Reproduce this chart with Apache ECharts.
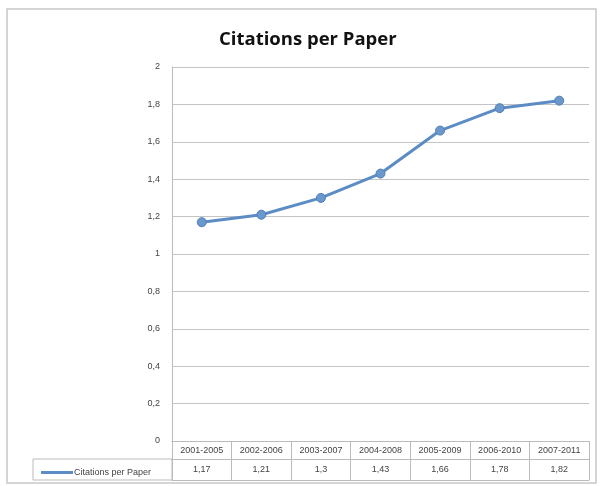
<!DOCTYPE html>
<html>
<head>
<meta charset="utf-8">
<script src="https://cdn.jsdelivr.net/npm/echarts@6/dist/echarts.min.js"></script>
<style>
  html, body { margin: 0; padding: 0; background: #fff; }
  #chart { width: 600px; height: 486px; }
</style>
</head>
<body>
<div id="chart"></div>
<script>
// 数据
var periods = ['2001-2005', '2002-2006', '2003-2007', '2004-2008', '2005-2009', '2006-2010', '2007-2011'];
var citations = [1.17, 1.21, 1.3, 1.43, 1.66, 1.78, 1.82];
var seriesName = 'Citations per Paper';

var chart = echarts.init(document.getElementById('chart'));

function comma(v) {
    return String(v).replace('.', ',');
}

var option = {
    backgroundColor: '#fff',
    animation: false,
    textStyle: { fontFamily: 'Liberation Sans' },
    title: {
        text: 'Citations per Paper',
        left: 214,
        top: 25,
        textStyle: { fontFamily: 'Open Sans', fontSize: 18.5, fontWeight: 'bold', color: '#111' }
    },
    legend: {
        data: [seriesName],
        left: 36,
        top: 463,
        icon: 'rect',
        itemWidth: 32,
        itemHeight: 3,
        itemGap: 2,
        itemStyle: { borderWidth: 0, color: '#5b8cc5' },
        textStyle: { fontSize: 9, color: '#444', padding: [0, 0, 0, -4] }
    },
    grid: { left: 172, right: 11, top: 67, bottom: 45 },
    xAxis: [{
        type: 'category',
        data: periods,
        position: 'bottom',
        axisLine: { lineStyle: { color: '#bbb' } },
        axisTick: { show: true, length: 39, lineStyle: { color: '#bbb' } },
        axisLabel: { color: '#444', fontSize: 9, margin: 5, interval: 0 }
    }, {
        type: 'category',
        data: periods,
        position: 'bottom',
        offset: 18,
        axisLine: { lineStyle: { color: '#bbb' } },
        axisTick: { show: false },
        axisLabel: {
            color: '#444', fontSize: 9, margin: 6, interval: 0,
            formatter: function (v, i) { return comma(citations[i]); }
        }
    }, {
        type: 'category',
        data: periods,
        position: 'bottom',
        offset: 39,
        axisLine: { lineStyle: { color: '#bbb' } },
        axisTick: { show: false },
        axisLabel: { show: false }
    }],
    yAxis: {
        type: 'value',
        min: 0,
        max: 2,
        interval: 0.2,
        axisLine: { show: true, lineStyle: { color: '#bbb' } },
        axisTick: { show: false },
        splitLine: { lineStyle: { color: '#c4c4c4' } },
        axisLabel: {
            color: '#444', fontSize: 9, margin: 12,
            formatter: function (v) { return comma(Math.round(v * 10) / 10); }
        }
    },
    graphic: [{
        type: 'rect',
        shape: { x: 7, y: 9, width: 589, height: 474 },
        style: { fill: 'none', stroke: '#c8c8c8', lineWidth: 1.5 },
        silent: true
    }, {
        type: 'rect',
        shape: { x: 33, y: 459, width: 139, height: 21 },
        style: { fill: 'none', stroke: '#bbb', lineWidth: 1 },
        silent: true
    }],
    series: [{
        name: seriesName,
        type: 'line',
        data: citations,
        symbol: 'circle',
        symbolSize: 9,
        lineStyle: { color: '#5b8cc5', width: 3 },
        itemStyle: { color: '#6a97cc', borderColor: '#4f7fb8', borderWidth: 1 }
    }]
};

chart.setOption(option);
</script>
</body>
</html>
